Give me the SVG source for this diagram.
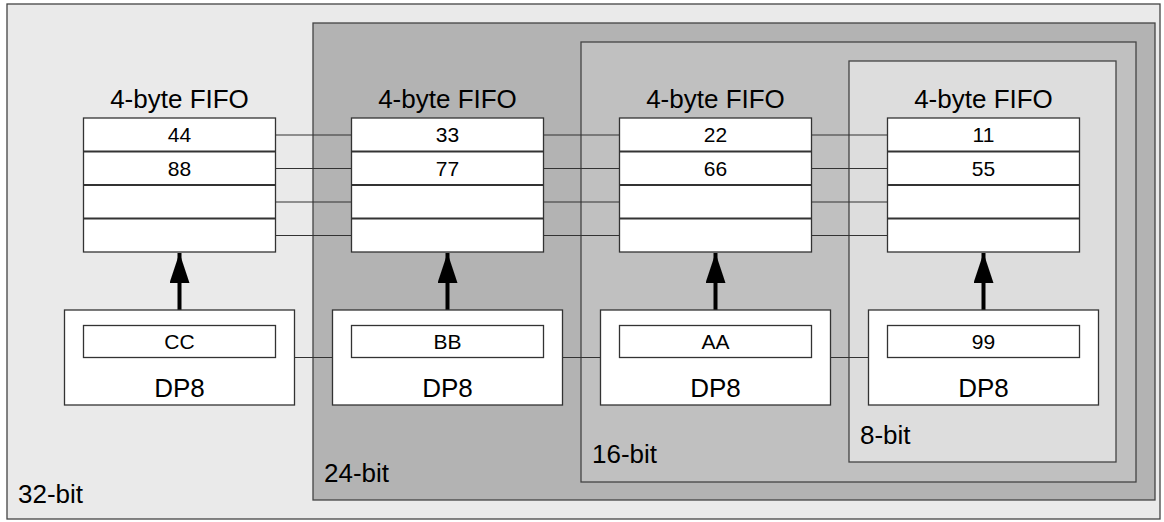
<svg xmlns="http://www.w3.org/2000/svg" width="1164" height="522" viewBox="0 0 1164 522">
<style>
text{font-family:"Liberation Sans",Arial,sans-serif;fill:#000}
.big{font-size:26px}
.cell{font-size:21px;text-anchor:middle}
.title{font-size:26px;text-anchor:middle}
.region{stroke:#444;stroke-width:1.3}
.box{fill:#fff;stroke:#333;stroke-width:1.3}
.row{stroke:#333;stroke-width:2}
.wire{stroke:#333;stroke-width:1.2;fill:none}
.arrow{stroke:#000;stroke-width:4;fill:none}
</style>
<defs>
<marker id="ah" markerWidth="7.5" markerHeight="5" refX="7.5" refY="2.5" orient="auto" markerUnits="strokeWidth">
<path d="M0,0 L7.5,2.5 L0,5 Z" fill="#000"/>
</marker>
</defs>
<g id="region-32"><rect class="region" x="7" y="4" width="1153" height="515" fill="#eaeaea"/><text class="big" x="18" y="503">32-bit</text></g>
<g id="region-24"><rect class="region" x="313" y="23" width="842" height="477" fill="#b3b3b3"/><text class="big" x="324" y="482">24-bit</text></g>
<g id="region-16"><rect class="region" x="581" y="42" width="555" height="440" fill="#c0c0c0"/><text class="big" x="592" y="463">16-bit</text></g>
<g id="region-8"><rect class="region" x="849" y="61" width="267" height="401" fill="#dddddd"/><text class="big" x="860" y="444">8-bit</text></g>
<g id="connectors">
<path class="wire" d="M275.5,135H351.5M275.5,168.5H351.5M275.5,202H351.5M275.5,235.5H351.5"/>
<path class="wire" d="M543.5,135H619.5M543.5,168.5H619.5M543.5,202H619.5M543.5,235.5H619.5"/>
<path class="wire" d="M811.5,135H887.5M811.5,168.5H887.5M811.5,202H887.5M811.5,235.5H887.5"/>
<path class="wire" d="M294.5,357.5H332.5M562.5,357.5H600.5M830.5,357.5H868.5"/>
<line class="arrow" x1="179.5" y1="310" x2="179.5" y2="253" marker-end="url(#ah)"/>
<line class="arrow" x1="447.5" y1="310" x2="447.5" y2="253" marker-end="url(#ah)"/>
<line class="arrow" x1="715.5" y1="310" x2="715.5" y2="253" marker-end="url(#ah)"/>
<line class="arrow" x1="983.5" y1="310" x2="983.5" y2="253" marker-end="url(#ah)"/>
</g>
<g id="fifo1"><text class="title" x="179.5" y="108">4-byte FIFO</text><rect class="box" x="83.5" y="118" width="192" height="134"/><path class="row" d="M83.5,151.5H275.5M83.5,185H275.5M83.5,218.5H275.5"/><text class="cell" x="179.5" y="142">44</text><text class="cell" x="179.5" y="175.5">88</text></g>
<g id="fifo2"><text class="title" x="447.5" y="108">4-byte FIFO</text><rect class="box" x="351.5" y="118" width="192" height="134"/><path class="row" d="M351.5,151.5H543.5M351.5,185H543.5M351.5,218.5H543.5"/><text class="cell" x="447.5" y="142">33</text><text class="cell" x="447.5" y="175.5">77</text></g>
<g id="fifo3"><text class="title" x="715.5" y="108">4-byte FIFO</text><rect class="box" x="619.5" y="118" width="192" height="134"/><path class="row" d="M619.5,151.5H811.5M619.5,185H811.5M619.5,218.5H811.5"/><text class="cell" x="715.5" y="142">22</text><text class="cell" x="715.5" y="175.5">66</text></g>
<g id="fifo4"><text class="title" x="983.5" y="108">4-byte FIFO</text><rect class="box" x="887.5" y="118" width="192" height="134"/><path class="row" d="M887.5,151.5H1079.5M887.5,185H1079.5M887.5,218.5H1079.5"/><text class="cell" x="983.5" y="142">11</text><text class="cell" x="983.5" y="175.5">55</text></g>
<g id="dp1"><rect class="box" x="64.5" y="310" width="230" height="95"/><rect class="box" x="83.5" y="325.5" width="192" height="32"/><text class="cell" x="179.5" y="348.5">CC</text><text class="title" x="179.5" y="397">DP8</text></g>
<g id="dp2"><rect class="box" x="332.5" y="310" width="230" height="95"/><rect class="box" x="351.5" y="325.5" width="192" height="32"/><text class="cell" x="447.5" y="348.5">BB</text><text class="title" x="447.5" y="397">DP8</text></g>
<g id="dp3"><rect class="box" x="600.5" y="310" width="230" height="95"/><rect class="box" x="619.5" y="325.5" width="192" height="32"/><text class="cell" x="715.5" y="348.5">AA</text><text class="title" x="715.5" y="397">DP8</text></g>
<g id="dp4"><rect class="box" x="868.5" y="310" width="230" height="95"/><rect class="box" x="887.5" y="325.5" width="192" height="32"/><text class="cell" x="983.5" y="348.5">99</text><text class="title" x="983.5" y="397">DP8</text></g>
</svg>
